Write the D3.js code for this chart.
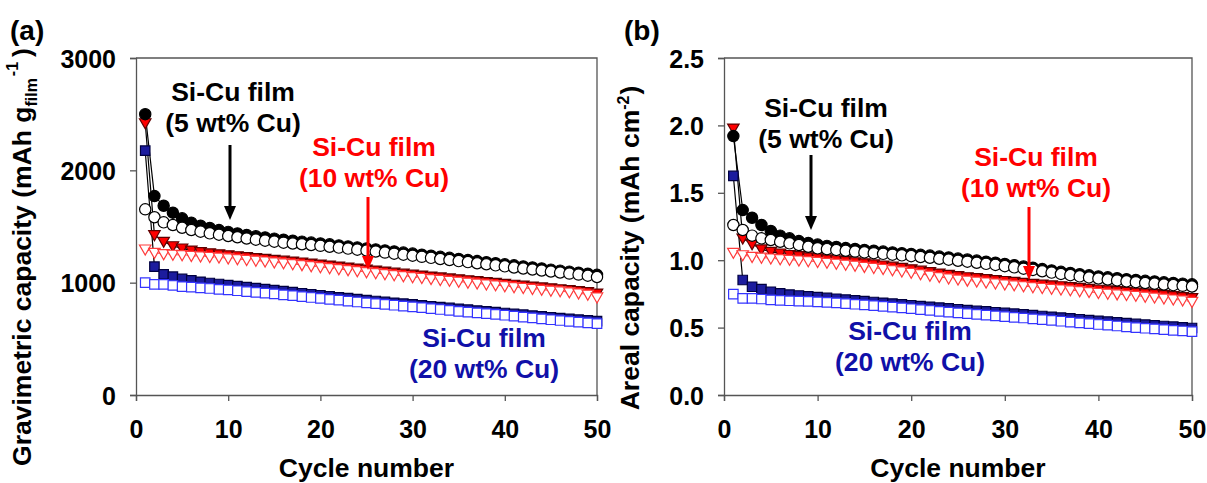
<!DOCTYPE html>
<html>
<head>
<meta charset="utf-8">
<script src="https://cdn.jsdelivr.net/npm/d3@7"></script>
<style>
  html, body { margin: 0; padding: 0; background: #fff; }
  svg { display: block; font-family: "Liberation Sans", Arial, sans-serif; font-weight: bold; }
</style>
</head>
<body>
<svg id="chart" width="1207" height="483"></svg>
<script>
// ---------- data ----------
const cycles = [1,2,3,4,5,6,7,8,9,10,11,12,13,14,15,16,17,18,19,20,21,22,23,24,25,26,27,28,29,30,31,32,33,34,35,36,37,38,39,40,41,42,43,44,45,46,47,48,49,50];
const xTicks = [0, 10, 20, 30, 40, 50];
const gravTicks = [0, 1000, 2000, 3000];
const arealTicks = [0.0, 0.5, 1.0, 1.5, 2.0, 2.5];

// (a) gravimetric capacity, mAh g_film^-1
const gFill5  = [2500,1771,1685,1623,1573,1534,1507,1487,1468,1452,1438,1425,1413,1402,1392,1382,1373,1365,1357,1349,1341,1332,1323,1314,1305,1296,1287,1278,1268,1259,1249,1240,1230,1221,1211,1201,1192,1182,1173,1163,1154,1144,1135,1126,1116,1107,1098,1089,1080,1070];
const gOpen5  = [1653,1582,1537,1513,1489,1469,1454,1439,1427,1415,1404,1393,1383,1374,1365,1356,1349,1342,1335,1328,1320,1312,1303,1294,1286,1277,1268,1258,1249,1240,1230,1221,1211,1202,1192,1183,1173,1164,1154,1145,1135,1126,1117,1108,1099,1090,1081,1072,1062,1050];
const gFill10 = [2421,1424,1365,1326,1306,1287,1274,1263,1254,1245,1237,1229,1221,1213,1205,1197,1189,1181,1172,1163,1154,1145,1136,1127,1118,1109,1100,1091,1082,1073,1065,1056,1048,1039,1031,1023,1015,1007,999,991,983,975,967,959,951,943,935,926,917,905];
const gOpen10 = [1297,1267,1255,1250,1246,1240,1235,1230,1225,1218,1211,1204,1197,1190,1182,1174,1166,1158,1149,1140,1131,1122,1113,1104,1095,1086,1077,1068,1060,1051,1043,1034,1026,1018,1010,1002,994,986,978,970,962,954,946,938,930,925,916,906,895,870];
const gFill20 = [2175,1142,1074,1053,1033,1020,1008,997,988,978,969,960,951,942,933,924,915,906,897,888,879,870,862,853,845,837,829,821,813,806,798,790,782,775,767,760,752,745,737,730,722,715,707,700,692,685,678,671,664,657];
const gOpen20 = [1000,985,985,975,964,960,954,948,941,935,928,921,914,907,900,892,884,876,868,860,852,844,836,828,820,813,806,799,792,785,777,769,761,753,745,738,731,724,717,710,702,694,686,678,670,663,656,649,642,635];

// (b) areal capacity, mAh cm^-2
const aFill5  = [1.921,1.372,1.315,1.261,1.217,1.182,1.162,1.142,1.128,1.116,1.106,1.098,1.090,1.083,1.076,1.070,1.064,1.058,1.052,1.046,1.040,1.034,1.027,1.020,1.012,1.005,0.997,0.989,0.981,0.972,0.963,0.953,0.944,0.934,0.924,0.914,0.905,0.896,0.888,0.880,0.873,0.866,0.859,0.853,0.847,0.842,0.836,0.831,0.826,0.821];
const aOpen5  = [1.261,1.224,1.182,1.162,1.150,1.137,1.125,1.113,1.100,1.088,1.082,1.076,1.070,1.064,1.058,1.052,1.047,1.041,1.036,1.030,1.024,1.018,1.011,1.004,0.996,0.989,0.981,0.973,0.965,0.956,0.947,0.937,0.928,0.918,0.908,0.898,0.889,0.880,0.872,0.864,0.857,0.850,0.843,0.837,0.831,0.826,0.820,0.815,0.810,0.805];
const aFill10 = [1.978,1.162,1.120,1.081,1.063,1.051,1.040,1.031,1.023,1.016,1.008,1.001,0.994,0.986,0.978,0.970,0.962,0.953,0.944,0.934,0.924,0.913,0.902,0.892,0.883,0.875,0.868,0.861,0.854,0.847,0.840,0.833,0.826,0.820,0.814,0.808,0.802,0.796,0.789,0.782,0.777,0.772,0.767,0.761,0.755,0.749,0.742,0.735,0.728,0.720];
const aOpen10 = [1.056,1.038,1.026,1.020,1.014,1.009,1.004,0.999,0.994,0.989,0.982,0.975,0.968,0.961,0.952,0.944,0.936,0.927,0.918,0.908,0.898,0.887,0.876,0.866,0.858,0.850,0.843,0.836,0.829,0.822,0.815,0.808,0.801,0.795,0.789,0.784,0.778,0.772,0.765,0.758,0.753,0.748,0.743,0.737,0.731,0.724,0.717,0.710,0.703,0.692];
const aFill20 = [1.625,0.853,0.803,0.786,0.766,0.754,0.745,0.738,0.732,0.726,0.720,0.714,0.708,0.702,0.696,0.690,0.684,0.678,0.672,0.666,0.660,0.654,0.648,0.642,0.636,0.630,0.625,0.620,0.614,0.609,0.603,0.598,0.592,0.586,0.580,0.574,0.568,0.562,0.556,0.550,0.545,0.539,0.533,0.527,0.522,0.517,0.512,0.507,0.502,0.497];
const aOpen20 = [0.749,0.717,0.717,0.712,0.705,0.702,0.699,0.696,0.694,0.691,0.687,0.683,0.678,0.673,0.668,0.663,0.658,0.652,0.646,0.640,0.634,0.627,0.621,0.615,0.609,0.603,0.598,0.593,0.587,0.582,0.576,0.571,0.565,0.559,0.553,0.547,0.541,0.535,0.529,0.523,0.518,0.512,0.506,0.500,0.495,0.490,0.485,0.480,0.475,0.470];

const annoLine1 = "Si-Cu film";
const annoLabels = ["(5 wt% Cu)", "(10 wt% Cu)", "(20 wt% Cu)"];

// ---------- styles ----------
const RED = "#ff0000", BLUE_TXT = "#1010a8";
const styles = {
  fill5:  {shape: d3.symbolCircle,   fill: "#000",    stroke: "#000",    size: 100},
  open5:  {shape: d3.symbolCircle,   fill: "#fff",    stroke: "#000",    size: 100},
  fill10: {shape: "tri",             fill: "#ff0000", stroke: "#600000", size: 11.5},
  open10: {shape: "tri",             fill: "#fff",    stroke: "#ff3b3b", size: 11.5},
  fill20: {shape: d3.symbolSquare,   fill: "#1c1c9e", stroke: "#000040", size: 90},
  open20: {shape: d3.symbolSquare,   fill: "#fff",    stroke: "#3434ff", size: 90}
};

const svg = d3.select("#chart");

function drawPanel(cfg) {
  const g = svg.append("g");
  const x = d3.scaleLinear().domain([0, 50]).range([cfg.left, cfg.right]);
  const y = d3.scaleLinear().domain(cfg.yDomain).range([cfg.bottom, cfg.top]);

  // frame (top & right)
  g.append("path")
    .attr("d", `M${cfg.left},${cfg.top}H${cfg.right}V${cfg.bottom}`)
    .attr("fill", "none").attr("stroke", "#555").attr("stroke-width", 1.3);

  const xAxis = g.append("g").attr("transform", `translate(0,${cfg.bottom})`)
    .call(d3.axisBottom(x).tickValues(xTicks).tickSize(6).tickPadding(19).tickFormat(d3.format("d")));
  const yAxis = g.append("g").attr("transform", `translate(${cfg.left},0)`)
    .call(d3.axisLeft(y).tickValues(cfg.yTicks).tickSize(6).tickPadding(14).tickFormat(cfg.fmt));
  [xAxis, yAxis].forEach(a => {
    a.select(".domain").attr("stroke", "#555").attr("stroke-width", 1.3);
    a.selectAll(".tick line").attr("stroke", "#555").attr("stroke-width", 1.3);
    a.selectAll(".tick text").attr("fill", "#000").style("font-size", "25px")
      .style("font-family", "'Liberation Sans', Arial, sans-serif").style("font-weight", "bold");
  });
  yAxis.selectAll(".tick text").attr("dy", "0.36em");

  // connecting lines
  const line = d3.line().x((d, i) => x(cycles[i])).y(d => y(d));
  cfg.series.forEach(s => {
    const isFill = s.key.startsWith("fill");
    g.append("path").datum(s.values)
      .attr("d", line).attr("fill", "none")
      .attr("stroke", isFill ? "#000" : styles[s.key].stroke)
      .attr("stroke-width", isFill ? 1.2 : 0.9)
      .attr("stroke-dasharray", isFill ? null : "4,2");
  });

  // markers: filled first, open on top
  const order = ["fill20", "fill10", "fill5", "open20", "open10", "open5"];
  order.forEach(k => {
    const s = cfg.series.find(d => d.key === k);
    const st = styles[k];
    const sel = g.append("g").selectAll("path").data(s.values).enter().append("path")
      .attr("fill", st.fill).attr("stroke", st.stroke).attr("stroke-width", 1.2)
      .attr("transform", (d, i) => `translate(${x(cycles[i])},${y(d)})`);
    if (st.shape === "tri") {
      const w = st.size / 2;
      sel.attr("d", `M${-w},${-w * 0.75}L${w},${-w * 0.75}L0,${w * 1.0}Z`);
    } else {
      sel.attr("d", d3.symbol().type(st.shape).size(st.size)());
    }
  });

  // annotations
  cfg.annos.forEach(a => {
    const t = g.append("text").attr("text-anchor", "middle").attr("fill", a.color)
      .style("font-size", "26.5px");
    t.append("tspan").attr("x", a.tx).attr("y", a.ty).text(annoLine1);
    t.append("tspan").attr("x", a.tx).attr("y", a.ty + 31).text(a.label);
    if (a.arrow) {
      const [ax, y1, y2] = a.arrow;
      g.append("line").attr("x1", ax).attr("x2", ax).attr("y1", y1).attr("y2", y2 - 12)
        .attr("stroke", a.color).attr("stroke-width", 3);
      g.append("path").attr("d", `M${ax - 6},${y2 - 14}L${ax + 6},${y2 - 14}L${ax},${y2}Z`)
        .attr("fill", a.color);
    }
  });

  // y title
  const yt = g.append("text").attr("text-anchor", "middle")
    .attr("transform", `translate(${cfg.yTitleX},${cfg.yTitleY}) rotate(-90)`)
    .style("font-size", "26.5px");
  cfg.yTitle(yt);

  // panel letter
  g.append("text").attr("x", cfg.letterX).attr("y", 40).style("font-size", "28px").text(cfg.letter);

  // x title
  g.append("text").attr("x", (cfg.left + cfg.right) / 2).attr("y", 477)
    .attr("text-anchor", "middle").style("font-size", "26.5px").text("Cycle number");
}

drawPanel({
  left: 136, right: 597, top: 58, bottom: 395,
  yDomain: [0, 3000], yTicks: gravTicks, fmt: d3.format("d"),
  letter: "(a)", letterX: 10,
  yTitleX: 31, yTitleY: 257,
  yTitle: t => {
    t.append("tspan").text("Gravimetric capacity (mAh g");
    t.append("tspan").attr("dy", 6).style("font-size", "16px").text("film");
    t.append("tspan").attr("dy", -19).attr("dx", 2).style("font-size", "16px").text("-1");
    t.append("tspan").attr("dy", 13).attr("dx", 5).text(")");
  },
  series: [
    {key: "fill5", values: gFill5}, {key: "open5", values: gOpen5},
    {key: "fill10", values: gFill10}, {key: "open10", values: gOpen10},
    {key: "fill20", values: gFill20}, {key: "open20", values: gOpen20}
  ],
  annos: [
    {tx: 233, ty: 101, label: annoLabels[0], color: "#000", arrow: [230, 145, 220]},
    {tx: 374, ty: 156, label: annoLabels[1], color: RED, arrow: [368, 197, 270]},
    {tx: 484, ty: 347, label: annoLabels[2], color: BLUE_TXT}
  ]
});

drawPanel({
  left: 724, right: 1192, top: 58, bottom: 395,
  yDomain: [0, 2.5], yTicks: arealTicks, fmt: d3.format(".1f"),
  letter: "(b)", letterX: 624,
  yTitleX: 639, yTitleY: 248,
  yTitle: t => {
    t.append("tspan").text("Areal capacity (mAh cm");
    t.append("tspan").attr("dy", -10).style("font-size", "16px").text("-2");
    t.append("tspan").attr("dy", 10).attr("dx", 1).text(")");
  },
  series: [
    {key: "fill5", values: aFill5}, {key: "open5", values: aOpen5},
    {key: "fill10", values: aFill10}, {key: "open10", values: aOpen10},
    {key: "fill20", values: aFill20}, {key: "open20", values: aOpen20}
  ],
  annos: [
    {tx: 826, ty: 117, label: annoLabels[0], color: "#000", arrow: [811, 155, 230]},
    {tx: 1036, ty: 166, label: annoLabels[1], color: RED, arrow: [1029, 207, 280]},
    {tx: 910, ty: 340, label: annoLabels[2], color: BLUE_TXT}
  ]
});
</script>
</body>
</html>
